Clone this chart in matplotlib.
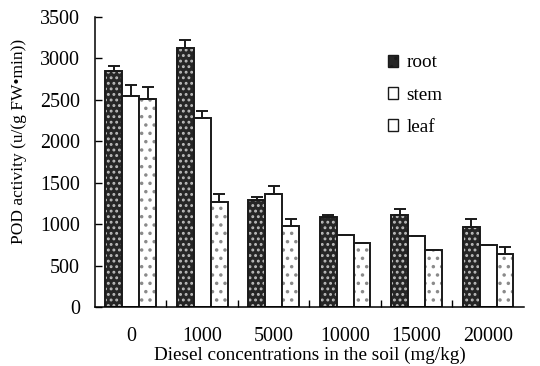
import matplotlib.pyplot as plt
import numpy as np
from matplotlib.patches import Patch

# data
concs = ['0', '1000', '5000', '10000', '15000', '20000']
root = [2850, 3120, 1290, 1090, 1105, 960]
root_err = [60, 100, 40, 15, 80, 100]
stem = [2550, 2280, 1360, 870, 855, 750]
stem_err = [130, 80, 100, 0, 0, 0]
leaf = [2510, 1270, 980, 770, 690, 645]
leaf_err = [145, 90, 85, 0, 0, 80]

plt.rcParams['font.family'] = ['Liberation Serif', 'DejaVu Serif']
plt.rcParams['hatch.linewidth'] = 1.3

fig = plt.figure(figsize=(5.4, 3.66), dpi=100)
ax = fig.add_axes([0.176, 0.161, 0.794, 0.793])

x = np.arange(len(concs))
w = 0.236

#dark root bars with light dots, plain stem bars, dotted leaf bars
ax.bar(x - w, root, w, color='#262626', edgecolor='#bdbdbd', hatch='...', linewidth=0)
ax.bar(x - w, root, w, fill=False, edgecolor='#1a1a1a', linewidth=1.4)
ax.bar(x, stem, w, color='white', edgecolor='#1a1a1a', linewidth=1.4)
ax.bar(x + w, leaf, w, color='white', edgecolor='#8a8a8a', hatch='..', linewidth=0)
ax.bar(x + w, leaf, w, fill=False, edgecolor='#1a1a1a', linewidth=1.4)

#upper error bars only
for off, vals, errs in [(-w, root, root_err), (0, stem, stem_err), (w, leaf, leaf_err)]:
    ax.errorbar(x + off, vals, yerr=[np.zeros(len(errs)), errs], fmt='none',
                ecolor='#1a1a1a', elinewidth=1.4, capsize=4.5, capthick=1.4)

ax.set_xlim(-0.5, len(concs) - 0.5)
ax.set_ylim(0, 3500)
ax.set_yticks(np.arange(0, 3501, 500))
ax.set_xticks(x)
ax.set_xticklabels(concs)
ax.set_xticks(np.arange(0.5, len(concs) - 0.5, 1), minor=True)
ax.tick_params(axis='x', which='major', length=0, pad=14, labelsize=14.4)
ax.tick_params(axis='x', which='minor', direction='in', length=5, width=1)
ax.tick_params(axis='y', direction='in', length=5, width=1, pad=11, labelsize=14.4)

for s in ['top', 'right']:
    ax.spines[s].set_visible(False)
for s in ['left', 'bottom']:
    ax.spines[s].set_linewidth(1.1)

ax.set_xlabel('Diesel concentrations in the soil (mg/kg)', fontsize=13.8, labelpad=0.5)
ax.set_ylabel('POD activity (u/(g FW•min))', fontsize=12.5)
ax.yaxis.set_label_coords(-0.158, 0.57)

#legend with small square keys
handles = [Patch(facecolor='#262626', edgecolor='#1a1a1a', hatch='..'),
           Patch(facecolor='white', edgecolor='#1a1a1a'),
           Patch(facecolor='white', edgecolor='#1a1a1a', hatch='.')]
ax.legend(handles, ['root', 'stem', 'leaf'], loc='upper left', bbox_to_anchor=(0.642, 0.93),
          frameon=False, fontsize=13.8, handlelength=0.55, handleheight=0.6,
          handletextpad=0.45, labelspacing=0.8)

fig.savefig('out.png', dpi=100)
